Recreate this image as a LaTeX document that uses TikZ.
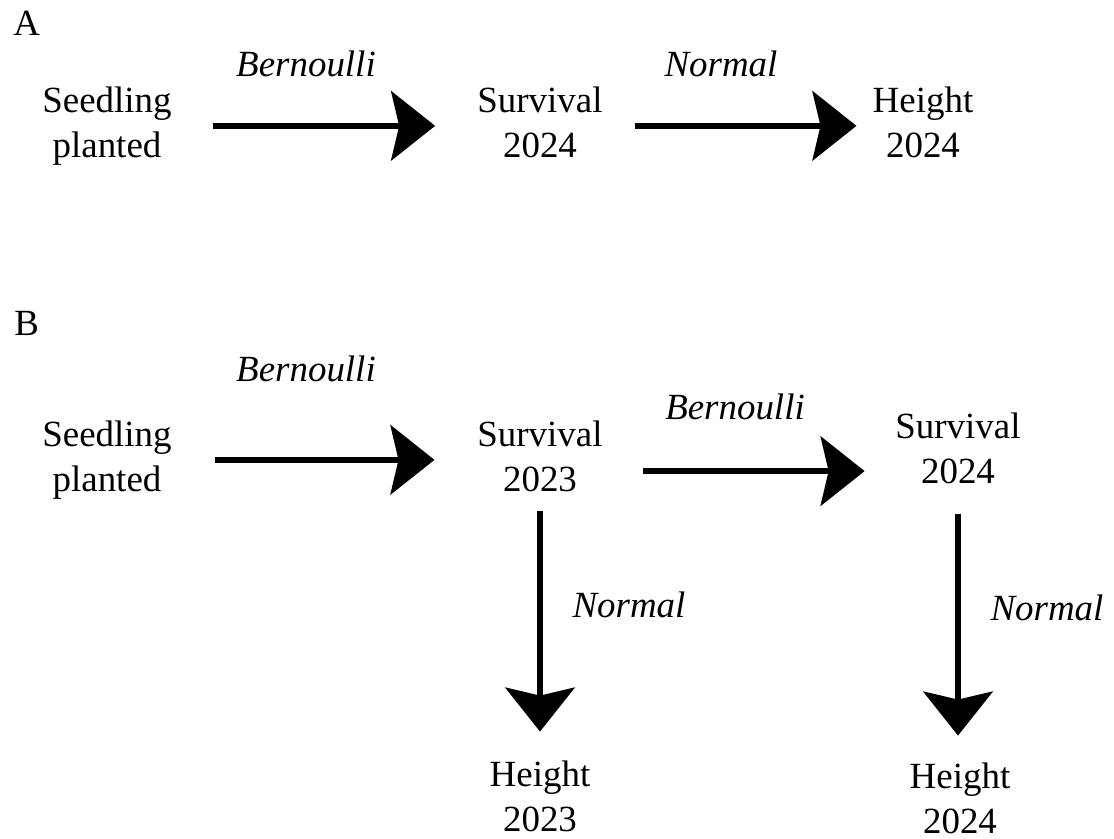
\documentclass[tikz,border=0pt]{standalone}
\usepackage{fontspec}
\setmainfont{Liberation Serif}
\usetikzlibrary{arrows.meta}
\begin{document}
\begin{tikzpicture}[x=0.75pt,y=-0.75pt,
    stage/.style={align=center,inner sep=0pt,anchor=base,font=\fontsize{27.7}{33.4}\selectfont},
    dist/.style={inner sep=0pt,anchor=base,font=\fontsize{27.7}{33.4}\selectfont\itshape},
    panel/.style={inner sep=0pt,anchor=base west,font=\fontsize{27.7}{33.4}\selectfont},
    flow/.style={line width=4.5pt,-{Stealth[length=33pt,width=52pt,inset=6pt]}}]
  \useasboundingbox (0,0) rectangle (1114,839);
  % panel A
  \node[panel] (labA) at (13,35) {A};
  \node[stage] (seedA) at (107,157) {Seedling\\planted};
  \node[stage] (survA) at (540,157) {Survival\\2024};
  \node[stage] (htA) at (923,157) {Height\\2024};
  \node[dist] (bernA) at (306,76) {Bernoulli};
  \node[dist] (normA) at (721,76) {Normal};
  \draw[flow,shorten <=30.75pt,shorten >=31.5pt] (seedA.east) -- (seedA.east -| survA.west);
  \draw[flow,shorten <=24.4pt,shorten >=12pt] (seedA.east -| survA.east) -- (seedA.east -| htA.west);
  % panel B
  \node[panel] (labB) at (14,335) {B};
  \node[stage] (seedB) at (107,491) {Seedling\\planted};
  \node[stage] (surv23) at (540,491) {Survival\\2023};
  \node[stage] (surv24) at (958,483) {Survival\\2024};
  \node[stage] (ht23) at (540,831) {Height\\2023};
  \node[stage] (ht24) at (960,833) {Height\\2024};
  \node[dist] (bernB1) at (306,381) {Bernoulli};
  \node[dist] (bernB2) at (735,419) {Bernoulli};
  \node[dist] (norm23) at (629,617) {Normal};
  \node[dist] (norm24) at (1047,620) {Normal};
  \draw[flow,shorten <=32pt,shorten >=32pt] (seedB.east) -- (seedB.east -| surv23.west);
  \draw[flow,shorten <=30.4pt,shorten >=22.9pt] ([yshift=-11.25pt]surv23.east) -- ([yshift=-11.25pt]surv23.east -| surv24.west);
  \draw[flow,shorten <=14.25pt,shorten >=21.75pt] (surv23.south) -- (ht23.north);
  \draw[flow,shorten <=22.5pt,shorten >=20.25pt] (surv24.south) -- (surv24.south |- ht24.north);
\end{tikzpicture}
\end{document}
